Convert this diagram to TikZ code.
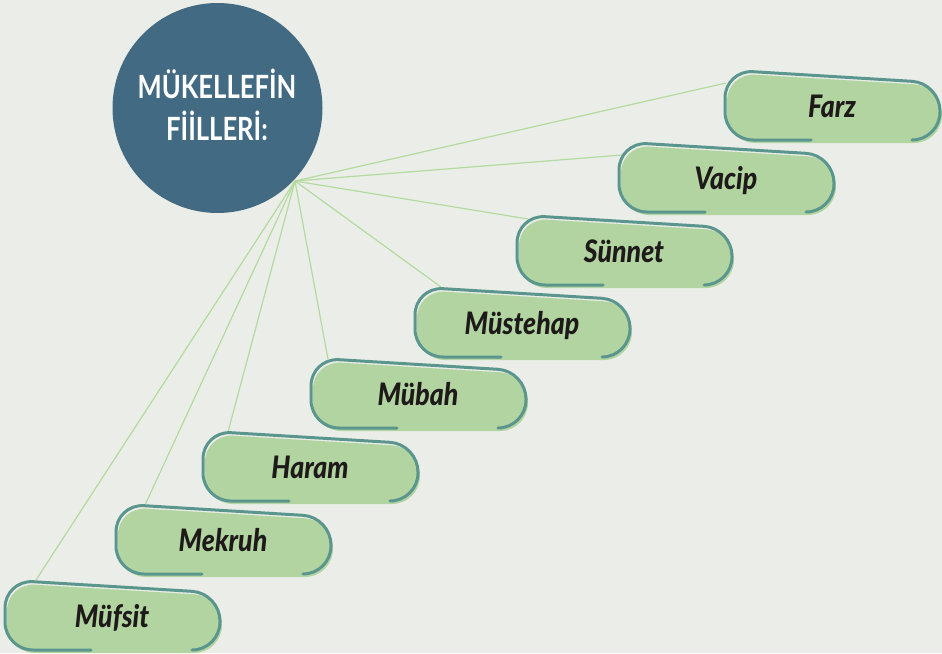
\documentclass[tikz,border=0pt]{standalone}
\usepackage{fontspec}
\setmainfont{Lato}
\newfontfamily\baslikfont[FakeStretch=0.8]{Lato}
\newfontfamily\kutufont[FakeStretch=0.86]{Lato Black}

\definecolor{zemin}{HTML}{EBEEE8}
\definecolor{daire}{HTML}{436A83}
\definecolor{kutuyesil}{HTML}{B2D4A0}
\definecolor{cerceve}{HTML}{5A968E}
\definecolor{cizgiyesil}{HTML}{B3DA9F}
\definecolor{yazirengi}{HTML}{1E1A1A}

\pgfdeclarelayer{arka}
\pgfsetlayers{arka,main}

\tikzset{
	kutudolgu/.style={fill=kutuyesil, rounded corners=28pt},
	kutucerceve/.style={draw=cerceve, line width=3pt, rounded corners=28pt, line cap=round},
	kutuyazi/.style={anchor=base, text=yazirengi, font=\kutufont\itshape\fontsize{31}{31}\selectfont},
	cizgi/.style={draw=cizgiyesil, line width=1.2pt}
}

% #1 ad, #2 sol x, #3 ust y, #4 yazi, #5 cizginin bittigi yer
\newcommand{\kutuciz}[5]{
	\begin{scope}[shift={(#2,#3)}]
		\fill[kutudolgu] (2,73) -- (2,3) -- (217,16) -- (217,73) -- cycle;
		\draw[kutucerceve] (86,70) -- (0,70) -- (0,0) -- (215,13) -- (215,70) -- (187,70);
		\node[kutuyazi] (#1) at (107,47) {#4};
		\coordinate (#1-u) at (#5);
	\end{scope}
}

\begin{document}
\begin{tikzpicture}[x=1pt, y=-1pt]
	\useasboundingbox (0,0) rectangle (942,653);
	\begin{pgfonlayer}{arka}
		\fill[zemin] (0,0) rectangle (942,653);
	\end{pgfonlayer}

	\fill[daire] (217.5,108) circle (105);
	\node[text=white, align=center, font=\baslikfont\bfseries\fontsize{32}{42}\selectfont] (baslik) at (217,105) {MÜKELLEFİN\\FİİLLERİ:};
	\coordinate (merkez) at (295,181);

	\kutuciz{farz}{725}{70}{Farz}{1,13}
	\kutuciz{vacip}{619}{142}{Vacip}{3,13}
	\kutuciz{sunnet}{517}{215}{Sünnet}{11,4}
	\kutuciz{mustehap}{415}{287}{Müstehap}{26,0}
	\kutuciz{mubah}{311}{358}{Mübah}{17,1}
	\kutuciz{haram}{203}{431}{Haram}{25,1}
	\kutuciz{mekruh}{116}{504}{Mekruh}{29,1}
	\kutuciz{mufsit}{5}{580}{Müfsit}{31,0}

	\begin{pgfonlayer}{arka}
		\draw[cizgi] (merkez) -- (farz-u);
		\draw[cizgi] (merkez) -- (vacip-u);
		\draw[cizgi] (merkez) -- (sunnet-u);
		\draw[cizgi] (merkez) -- (mustehap-u);
		\draw[cizgi] (merkez) -- (mubah-u);
		\draw[cizgi] (merkez) -- (haram-u);
		\draw[cizgi] (merkez) -- (mekruh-u);
		\draw[cizgi] (merkez) -- (mufsit-u);
	\end{pgfonlayer}
\end{tikzpicture}
\end{document}
